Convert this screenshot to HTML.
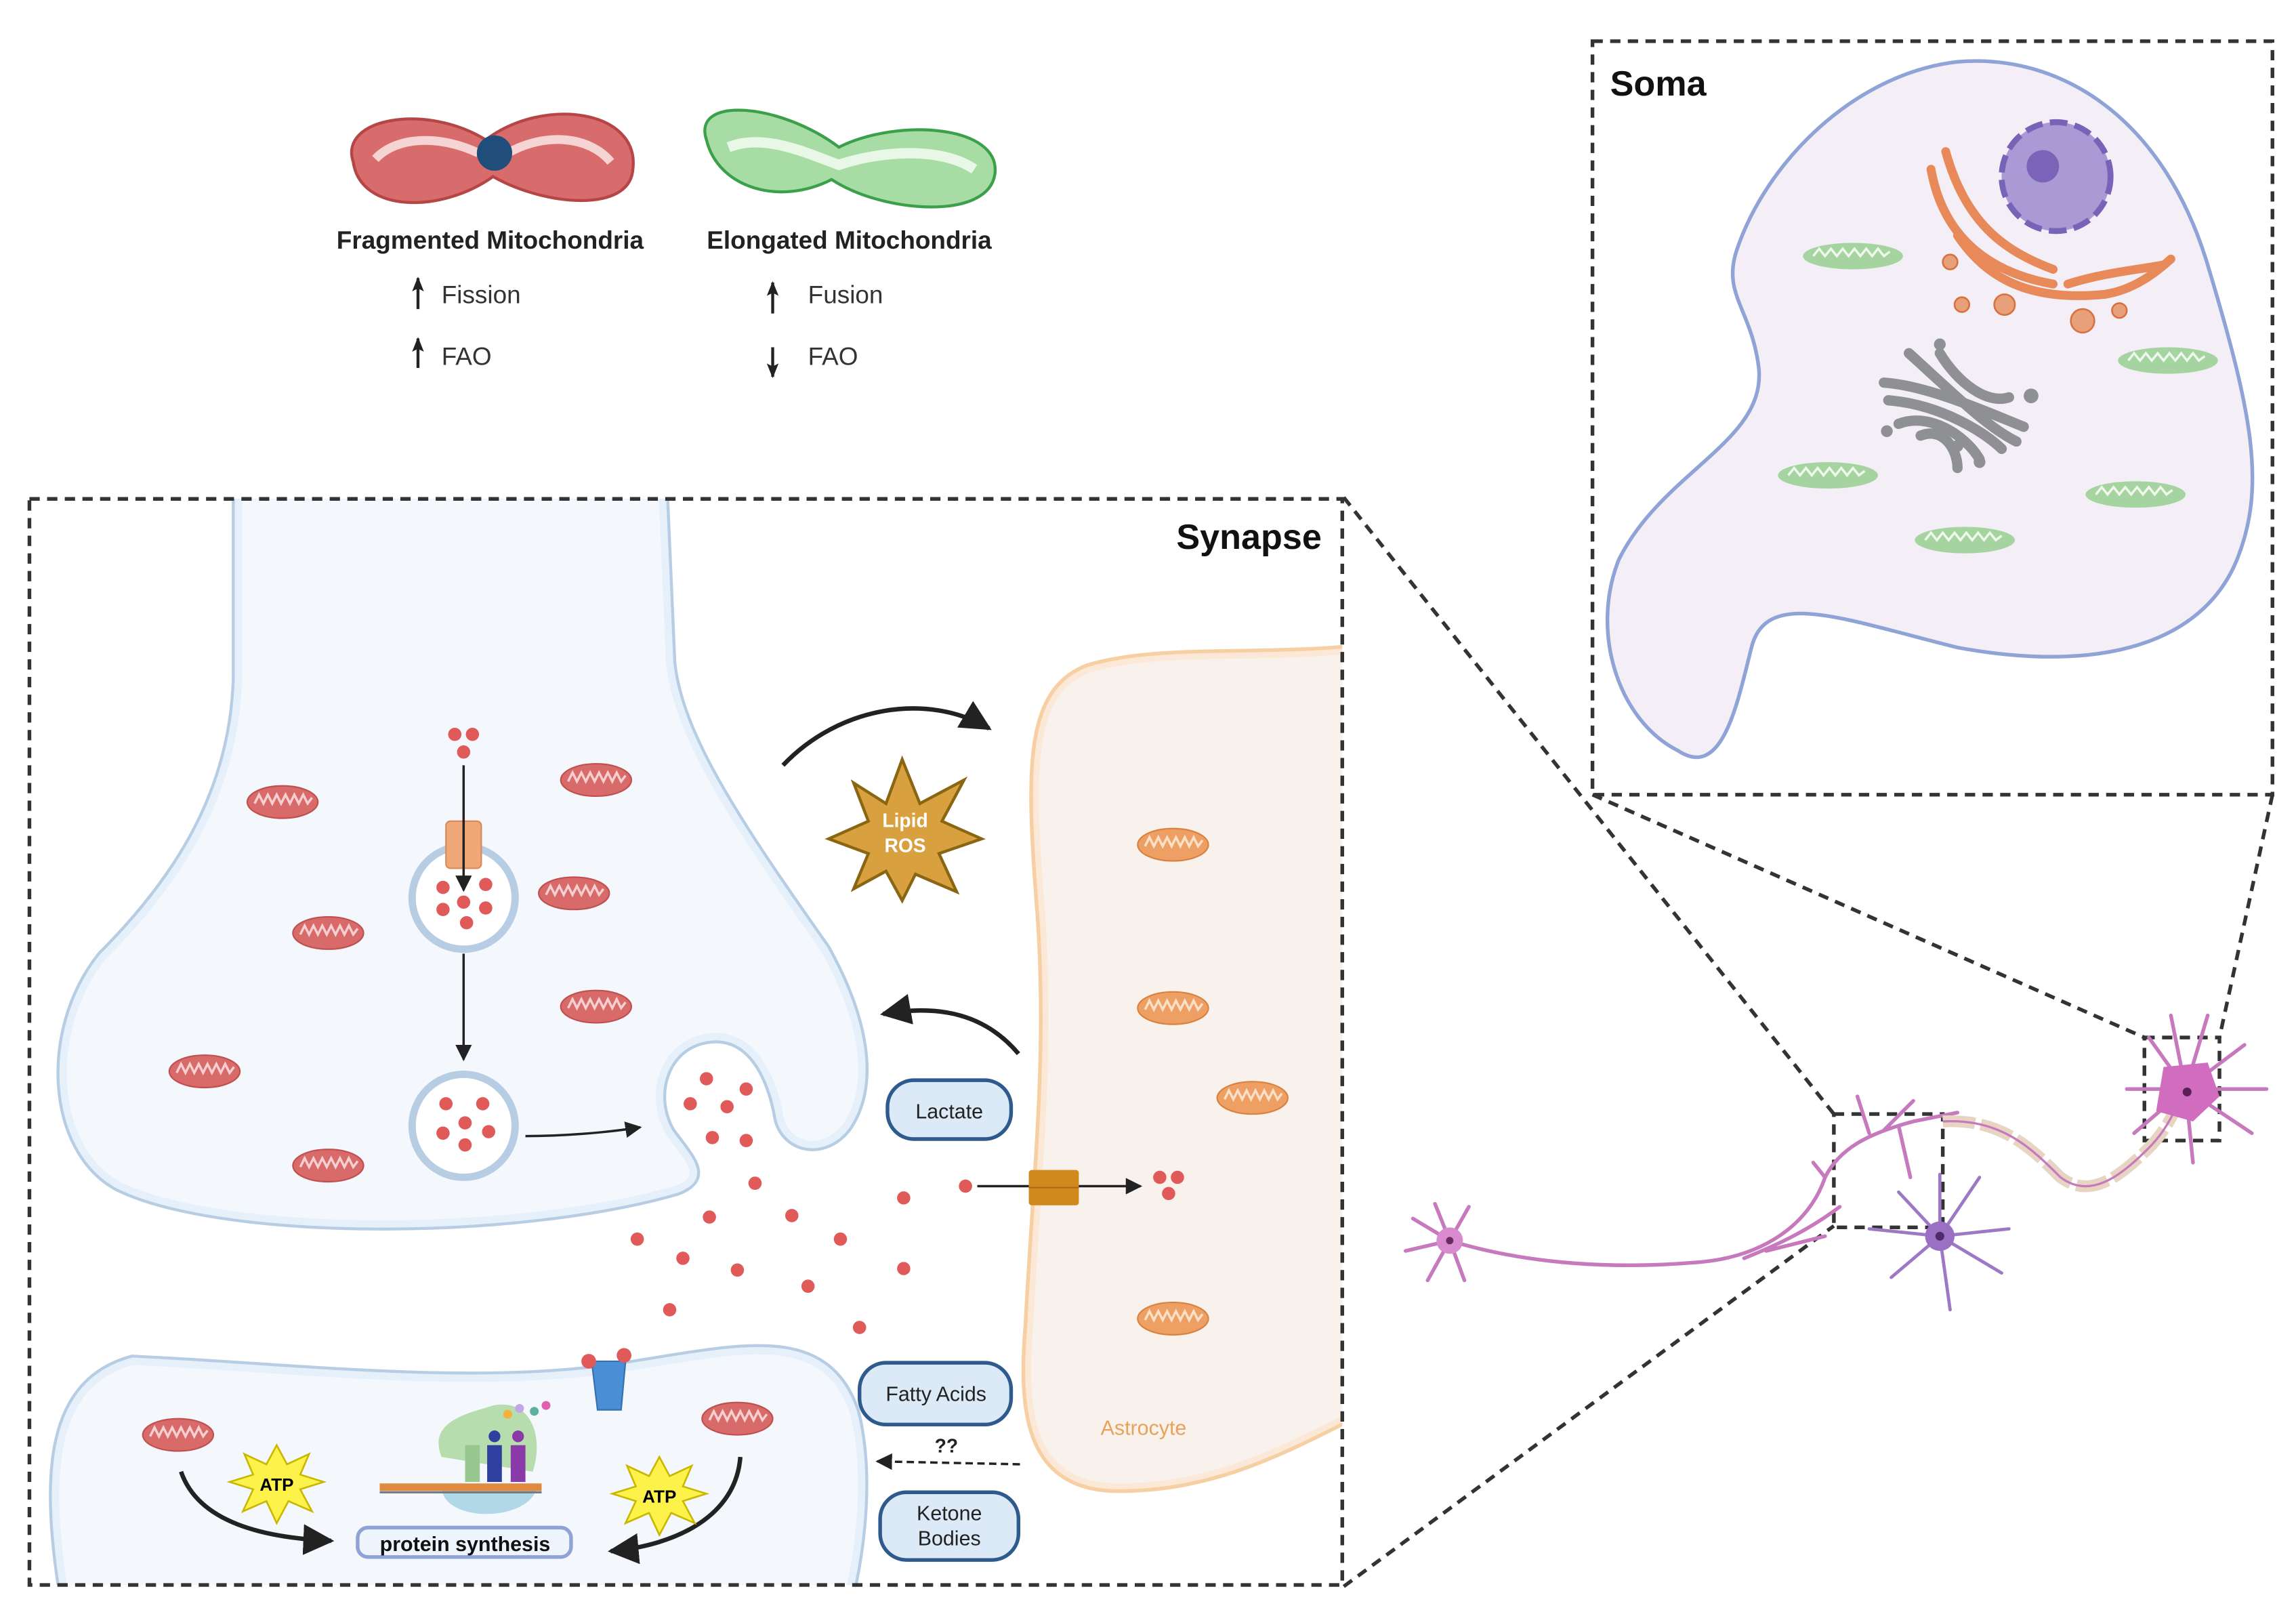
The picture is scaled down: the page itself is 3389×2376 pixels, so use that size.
<!DOCTYPE html>
<html><head><meta charset="utf-8"><style>
html,body{margin:0;padding:0;background:#fff}
svg{display:block}
text{font-family:"Liberation Sans",sans-serif}
</style></head><body>
<svg width="3389" height="2376" viewBox="0 0 1560 1094" preserveAspectRatio="none" xmlns="http://www.w3.org/2000/svg">
<defs>
<symbol id="mr" viewBox="0 0 50 26">
<ellipse cx="25" cy="13" rx="24" ry="11" fill="#d96a6a" stroke="#c05050" stroke-width="1"/>
<polyline points="6,14 9,8 12,14 15,8 18,14 21,8 24,14 27,8 30,14 33,8 36,14 39,8 42,14 45,10" fill="none" stroke="#f6d0d0" stroke-width="1.6"/>
</symbol>
<symbol id="mo" viewBox="0 0 50 26">
<ellipse cx="25" cy="13" rx="24" ry="11" fill="#eea064" stroke="#d9823f" stroke-width="1"/>
<polyline points="6,14 9,8 12,14 15,8 18,14 21,8 24,14 27,8 30,14 33,8 36,14 39,8 42,14 45,10" fill="none" stroke="#fbe0c8" stroke-width="1.6"/>
</symbol>
<symbol id="mg" viewBox="0 0 70 22">
<ellipse cx="35" cy="11" rx="34" ry="9" fill="#a6d4a0"/>
<polyline points="8,11 12,6 16,11 20,6 24,11 28,6 32,11 36,6 40,11 44,6 48,11 52,6 56,11 60,8" fill="none" stroke="#eef8ec" stroke-width="1.6"/>
</symbol>
<marker id="ah" viewBox="0 0 10 10" refX="9" refY="5" markerWidth="7" markerHeight="7" orient="auto"><path d="M0,0 L10,5 L0,10 z" fill="#222"/></marker>
<marker id="ahb" viewBox="0 0 10 10" refX="9" refY="5" markerWidth="5" markerHeight="5" orient="auto"><path d="M0,1 L10,5 L0,9 L2,5 z" fill="#222"/></marker>
<clipPath id="syn"><rect x="20" y="339" width="892" height="738"/></clipPath>
</defs>

<!-- top legend -->
<path d="M240,110 C230,80 290,70 330,95 C370,65 435,75 430,115 C428,145 370,140 335,120 C300,145 245,145 240,110 Z" fill="#d86b6b" stroke="#b64545" stroke-width="2"/>
<path d="M255,108 C270,92 300,92 325,104 M345,104 C370,90 400,92 415,110" fill="none" stroke="#f7d4d4" stroke-width="6"/>
<circle cx="336" cy="104" r="12" fill="#1f4e7a"/>
<text x="333" y="169" font-size="17" font-weight="bold" text-anchor="middle" fill="#222">Fragmented Mitochondria</text>
<path d="M480,95 C470,65 530,70 570,100 C610,80 680,85 676,118 C672,150 600,145 565,122 C530,140 488,128 480,95 Z" fill="#a8dca5" stroke="#3aa04a" stroke-width="2"/>
<path d="M495,100 C520,90 550,105 570,112 C600,102 640,100 662,115" fill="none" stroke="#e9f7e6" stroke-width="7"/>
<text x="577" y="169" font-size="17" font-weight="bold" text-anchor="middle" fill="#222">Elongated Mitochondria</text>
<line x1="284" y1="210" x2="284" y2="189" stroke="#222" stroke-width="2" marker-end="url(#ahb)"/>
<text x="300" y="206" font-size="17" fill="#333">Fission</text>
<line x1="284" y1="250" x2="284" y2="230" stroke="#222" stroke-width="2" marker-end="url(#ahb)"/>
<text x="300" y="248" font-size="17" fill="#333">FAO</text>
<line x1="525" y1="213" x2="525" y2="192" stroke="#222" stroke-width="2" marker-end="url(#ahb)"/>
<text x="549" y="206" font-size="17" fill="#333">Fusion</text>
<line x1="525" y1="236" x2="525" y2="256" stroke="#222" stroke-width="2" marker-end="url(#ahb)"/>
<text x="549" y="248" font-size="17" fill="#333">FAO</text>

<!-- soma box -->
<path d="M1180,170 C1200,110 1260,50 1330,42 C1400,36 1470,80 1500,180 C1530,280 1540,330 1520,380 C1500,430 1440,460 1330,440 C1250,420 1200,400 1190,440 C1180,480 1170,530 1140,510 C1100,490 1080,430 1100,380 C1130,320 1200,300 1195,250 C1190,210 1170,200 1180,170 Z" fill="#f4eff7" stroke="#8fa3d6" stroke-width="2.5"/>
<circle cx="1397" cy="120" r="37" fill="#a999d4" stroke="#7763b8" stroke-width="4" stroke-dasharray="12 5"/>
<circle cx="1388" cy="113" r="11" fill="#7d63b8"/>
<g fill="none" stroke="#e8895a" stroke-width="6" stroke-linecap="round">
<path d="M1312,115 C1320,160 1350,185 1395,193"/>
<path d="M1322,103 C1335,150 1360,170 1395,183"/>
<path d="M1330,160 C1350,190 1380,205 1430,200 C1450,197 1465,185 1475,176"/>
<path d="M1405,193 C1430,185 1455,183 1470,180"/>
</g>
<g fill="#e8a07b" stroke="#d9703f" stroke-width="1.2">
<circle cx="1333" cy="207" r="5"/><circle cx="1362" cy="207" r="7"/><circle cx="1415" cy="218" r="8"/><circle cx="1440" cy="211" r="5"/><circle cx="1325" cy="178" r="5"/>
</g>
<g fill="none" stroke="#8e9094" stroke-width="7" stroke-linecap="round">
<path d="M1297,240 C1330,270 1350,290 1370,300"/>
<path d="M1318,240 C1330,260 1350,275 1365,270"/>
<path d="M1280,260 C1310,262 1350,280 1375,290"/>
<path d="M1283,272 C1320,275 1350,295 1360,305"/>
<path d="M1290,288 C1310,280 1335,295 1345,312"/>
<path d="M1305,296 C1320,290 1330,305 1330,318"/>
</g>
<g fill="#8e9094"><circle cx="1318" cy="234" r="4"/><circle cx="1380" cy="269" r="5"/><circle cx="1282" cy="293" r="4"/><circle cx="1345" cy="314" r="4"/><circle cx="1330" cy="303" r="4"/></g>
<use href="#mg" x="1224" y="163" width="70" height="22"/>
<use href="#mg" x="1438" y="234" width="70" height="22"/>
<use href="#mg" x="1207" y="312" width="70" height="22"/>
<use href="#mg" x="1416" y="325" width="70" height="22"/>
<use href="#mg" x="1300" y="356" width="70" height="22"/>
<rect x="1082" y="28" width="462" height="512" fill="none" stroke="#333" stroke-width="2.5" stroke-dasharray="7 5"/>
<text x="1094" y="65" font-size="24" font-weight="bold" fill="#111">Soma</text>

<!-- zoom lines -->
<g stroke="#333" stroke-width="2.5" stroke-dasharray="7 5" fill="none">
<line x1="913" y1="338" x2="1246" y2="757"/>
<line x1="913" y1="1078" x2="1246" y2="833"/>
<line x1="1082" y1="540" x2="1457" y2="705"/>
<line x1="1544" y1="540" x2="1508" y2="705"/>
<rect x="1246" y="757" width="74" height="77"/>
<rect x="1457" y="705" width="51" height="70"/>
</g>

<!-- neurons -->
<g fill="none" stroke="#c679bc" stroke-width="2.5" stroke-linecap="round">
<path d="M985,843 C1040,860 1100,862 1150,858 C1200,855 1230,830 1240,800 C1250,780 1270,770 1300,762"/>
<path d="M1185,855 C1210,845 1230,835 1250,820 M1200,850 L1240,840 M1240,800 L1232,790 M1270,770 L1262,745 M1280,768 L1300,748 M1290,765 L1298,800 M1300,762 L1330,756"/>
<path d="M985,843 L960,828 M985,843 L955,850 M985,843 L970,870 M985,843 L995,870 M985,843 L975,818 M985,843 L998,820"/>
<path d="M1485,740 L1460,705 M1485,740 L1445,740 M1485,740 L1450,770 M1485,740 L1490,790 M1485,740 L1530,770 M1485,740 L1540,740 M1485,740 L1525,710 M1485,740 L1500,690 M1485,740 L1475,690"/>
</g>
<path d="M1320,762 C1360,760 1380,780 1400,800 C1420,815 1440,800 1460,780 C1470,770 1475,760 1480,750" fill="none" stroke="#e8d4c2" stroke-width="8" stroke-dasharray="22 4"/>
<path d="M1320,762 C1360,760 1380,780 1400,800 C1420,815 1440,800 1460,780 C1470,770 1475,760 1480,750" fill="none" stroke="#c679bc" stroke-width="1.5"/>
<g fill="none" stroke="#9d78c5" stroke-width="2.2" stroke-linecap="round">
<path d="M1318,840 L1290,810 M1318,840 L1270,835 M1318,840 L1285,868 M1318,840 L1325,890 M1318,840 L1360,865 M1318,840 L1365,835 M1318,840 L1345,800 M1318,840 L1318,798"/>
</g>
<circle cx="985" cy="843" r="9" fill="#d98bcf"/><circle cx="985" cy="843" r="2.5" fill="#6a2b63"/>
<path d="M1470,725 L1500,722 L1508,745 L1490,762 L1465,755 Z" fill="#d06dbf"/><circle cx="1486" cy="742" r="3" fill="#5a1f53"/>
<circle cx="1318" cy="840" r="10" fill="#9a6fc4"/><circle cx="1318" cy="840" r="3" fill="#4a2b6b"/>

<!-- synapse -->
<g clip-path="url(#syn)">
<!-- presynaptic -->
<path d="M162,335 L162,460 C160,540 120,600 70,650 C30,700 35,780 80,805 C150,840 350,840 460,808 C480,800 470,790 455,770 C440,745 450,710 480,705 C510,700 525,730 530,760 C535,780 560,785 575,765 C595,735 585,690 560,645 C500,560 460,500 455,450 L450,335 Z" fill="#eef4fb" stroke="#b7cde3" stroke-width="9"/>
<path d="M162,335 L162,460 C160,540 120,600 70,650 C30,700 35,780 80,805 C150,840 350,840 460,808 C480,800 470,790 455,770 C440,745 450,710 480,705 C510,700 525,730 530,760 C535,780 560,785 575,765 C595,735 585,690 560,645 C500,560 460,500 455,450 L450,335 Z" fill="#f4f8fd" stroke="#e6f0fa" stroke-width="5"/>
<!-- postsynaptic -->
<path d="M45,1090 C30,1000 35,940 90,925 C200,930 320,945 420,930 C500,918 560,900 580,960 C590,1000 585,1050 575,1090 Z" fill="#f4f8fd" stroke="#b7cde3" stroke-width="9"/>
<path d="M45,1090 C30,1000 35,940 90,925 C200,930 320,945 420,930 C500,918 560,900 580,960 C590,1000 585,1050 575,1090 Z" fill="#f4f8fd" stroke="#e6f0fa" stroke-width="5"/>
<!-- astrocyte -->
<path d="M940,440 C860,450 790,440 740,455 C700,470 700,520 708,620 C715,720 705,800 700,900 C695,960 700,1010 760,1010 C830,1010 880,980 940,950 Z" fill="#f8f1ec" stroke="#f6cfa3" stroke-width="9"/>
<path d="M940,440 C860,450 790,440 740,455 C700,470 700,520 708,620 C715,720 705,800 700,900 C695,960 700,1010 760,1010 C830,1010 880,980 940,950 Z" fill="#f8f1ec" stroke="#fbe8d6" stroke-width="4"/>
</g>
<text x="777" y="975" font-size="14" text-anchor="middle" fill="#e8a25a">Astrocyte</text>
<use href="#mo" x="772" y="561" width="50" height="26"/>
<use href="#mo" x="772" y="672" width="50" height="26"/>
<use href="#mo" x="826" y="733" width="50" height="26"/>
<use href="#mo" x="772" y="883" width="50" height="26"/>
<use href="#mr" x="167" y="532" width="50" height="26"/>
<use href="#mr" x="380" y="517" width="50" height="26"/>
<use href="#mr" x="365" y="594" width="50" height="26"/>
<use href="#mr" x="198" y="621" width="50" height="26"/>
<use href="#mr" x="380" y="671" width="50" height="26"/>
<use href="#mr" x="114" y="715" width="50" height="26"/>
<use href="#mr" x="198" y="779" width="50" height="26"/>
<use href="#mr" x="96" y="962" width="50" height="26"/>
<use href="#mr" x="476" y="951" width="50" height="26"/>

<!-- vesicles -->
<circle cx="315" cy="610" r="35" fill="#fff" stroke="#b7cde3" stroke-width="5"/>
<circle cx="315" cy="765" r="35" fill="#fff" stroke="#b7cde3" stroke-width="5"/>
<rect x="303" y="558" width="24" height="32" rx="3" fill="#f0a878" stroke="#d98a5a"/>
<line x1="315" y1="570" x2="315" y2="590" stroke="#c97a4a"/>
<g fill="#e05a5a">
<circle cx="309" cy="499" r="4.5"/><circle cx="321" cy="499" r="4.5"/><circle cx="315" cy="511" r="4.5"/>
<circle cx="301" cy="603" r="4.5"/><circle cx="330" cy="601" r="4.5"/><circle cx="315" cy="613" r="4.5"/><circle cx="301" cy="618" r="4.5"/><circle cx="330" cy="617" r="4.5"/><circle cx="317" cy="627" r="4.5"/>
<circle cx="303" cy="750" r="4.5"/><circle cx="328" cy="750" r="4.5"/><circle cx="316" cy="763" r="4.5"/><circle cx="301" cy="770" r="4.5"/><circle cx="332" cy="769" r="4.5"/><circle cx="316" cy="778" r="4.5"/>
<circle cx="480" cy="733" r="4.5"/><circle cx="507" cy="740" r="4.5"/><circle cx="469" cy="750" r="4.5"/><circle cx="494" cy="752" r="4.5"/><circle cx="484" cy="773" r="4.5"/><circle cx="507" cy="775" r="4.5"/>
<circle cx="513" cy="804" r="4.5"/><circle cx="482" cy="827" r="4.5"/><circle cx="538" cy="826" r="4.5"/><circle cx="433" cy="842" r="4.5"/><circle cx="571" cy="842" r="4.5"/><circle cx="464" cy="855" r="4.5"/><circle cx="501" cy="863" r="4.5"/><circle cx="614" cy="862" r="4.5"/><circle cx="549" cy="874" r="4.5"/><circle cx="455" cy="890" r="4.5"/><circle cx="584" cy="902" r="4.5"/><circle cx="614" cy="814" r="4.5"/><circle cx="656" cy="806" r="4.5"/>
<circle cx="788" cy="800" r="4.5"/><circle cx="800" cy="800" r="4.5"/><circle cx="794" cy="811" r="4.5"/>
</g>
<g stroke="#222" stroke-width="1.6" fill="none">
<line x1="315" y1="520" x2="315" y2="605" marker-end="url(#ah)"/>
<line x1="315" y1="648" x2="315" y2="720" marker-end="url(#ah)"/>
<path d="M357,772 C380,772 410,770 435,766" marker-end="url(#ah)"/>
<line x1="664" y1="806" x2="775" y2="806" marker-end="url(#ah)"/>
<path d="M693,995 L596,993" stroke-dasharray="5 3" marker-end="url(#ah)"/>
</g>
<rect x="699" y="795" width="34" height="24" rx="2" fill="#d08a1c"/>
<line x1="699" y1="807" x2="733" y2="807" stroke="#a86a10"/>
<g stroke="#222" stroke-width="3" fill="none">
<path d="M532,520 C570,480 630,470 672,495" marker-end="url(#ah)"/>
<path d="M692,716 C670,690 640,682 600,689" marker-end="url(#ah)"/>
<path d="M123,1000 C135,1035 180,1045 225,1047" marker-end="url(#ah)"/>
<path d="M503,990 C500,1030 460,1050 415,1054" marker-end="url(#ah)"/>
</g>
<text x="643" y="987" font-size="13" font-weight="bold" text-anchor="middle" fill="#222">??</text>

<!-- lipid ROS star -->
<polygon points="613,516 625,546 655,530 640,558 667,570 638,580 650,606 622,594 613,612 602,592 580,604 590,580 563,570 590,558 580,532 602,546" fill="#d9a040" stroke="#8a6512" stroke-width="2"/>
<text x="615" y="562" font-size="13" font-weight="bold" text-anchor="middle" fill="#fff">Lipid</text>
<text x="615" y="579" font-size="13" font-weight="bold" text-anchor="middle" fill="#fff">ROS</text>
<!-- ATP stars -->
<polygon points="188,982 195,995 210,988 204,1002 220,1007 204,1012 212,1027 196,1020 188,1035 181,1020 165,1027 172,1012 156,1007 172,1002 166,988 181,995" fill="#fdf24a" stroke="#c9b700" stroke-width="1.2"/>
<text x="188" y="1013" font-size="12" font-weight="bold" text-anchor="middle">ATP</text>
<polygon points="448,990 455,1003 470,996 464,1010 480,1015 464,1020 472,1035 456,1028 448,1043 441,1028 425,1035 432,1020 416,1015 432,1010 426,996 441,1003" fill="#fdf24a" stroke="#c9b700" stroke-width="1.2"/>
<text x="448" y="1021" font-size="12" font-weight="bold" text-anchor="middle">ATP</text>
<!-- receptor -->
<path d="M402,925 L425,925 L422,958 L406,958 Z" fill="#4a8fd6" stroke="#3570b0"/>
<circle cx="400" cy="925" r="5" fill="#e05a5a"/><circle cx="424" cy="921" r="5" fill="#e05a5a"/>
<!-- ribosome -->
<path d="M300,990 C290,965 320,960 335,955 C360,950 370,975 362,1000 Z" fill="#b7dcae"/>
<path d="M300,1010 C300,1035 360,1035 365,1010 Z" fill="#b0d8e6"/>
<rect x="316" y="982" width="10" height="25" fill="#98c890"/>
<rect x="331" y="982" width="10" height="25" fill="#2f3fa0"/>
<rect x="347" y="982" width="10" height="25" fill="#8a3aa8"/>
<circle cx="336" cy="976" r="4" fill="#2f3fa0"/><circle cx="352" cy="976" r="4" fill="#8a3aa8"/>
<circle cx="345" cy="961" r="3" fill="#f3b03a"/><circle cx="353" cy="957" r="3" fill="#c0a8e8"/><circle cx="363" cy="959" r="3" fill="#5ab0a0"/><circle cx="371" cy="955" r="3" fill="#e060b0"/>
<rect x="258" y="1008" width="110" height="5" fill="#e08a40"/>
<line x1="258" y1="1014" x2="368" y2="1014" stroke="#777" stroke-width="1.5"/>
<!-- boxes -->
<rect x="243" y="1038" width="145" height="20" rx="7" fill="#eef4fb" stroke="#8fa3d6" stroke-width="2.5"/>
<text x="316" y="1054" font-size="14" font-weight="bold" text-anchor="middle" fill="#111">protein synthesis</text>
<rect x="603" y="734" width="84" height="40" rx="18" fill="#dce9f7" stroke="#2f5a8e" stroke-width="2.5"/>
<text x="645" y="760" font-size="14" text-anchor="middle" fill="#222">Lactate</text>
<rect x="584" y="926" width="103" height="42" rx="18" fill="#dce9f7" stroke="#2f5a8e" stroke-width="2.5"/>
<text x="636" y="952" font-size="14" text-anchor="middle" fill="#222">Fatty Acids</text>
<rect x="598" y="1014" width="94" height="46" rx="18" fill="#dce9f7" stroke="#2f5a8e" stroke-width="2.5"/>
<text x="645" y="1033" font-size="14" text-anchor="middle" fill="#222">Ketone</text>
<text x="645" y="1050" font-size="14" text-anchor="middle" fill="#222">Bodies</text>

<rect x="20" y="339" width="892" height="738" fill="none" stroke="#333" stroke-width="2.5" stroke-dasharray="7 5"/>
<text x="898" y="373" font-size="24" font-weight="bold" text-anchor="end" fill="#111">Synapse</text>
</svg>
</body></html>
